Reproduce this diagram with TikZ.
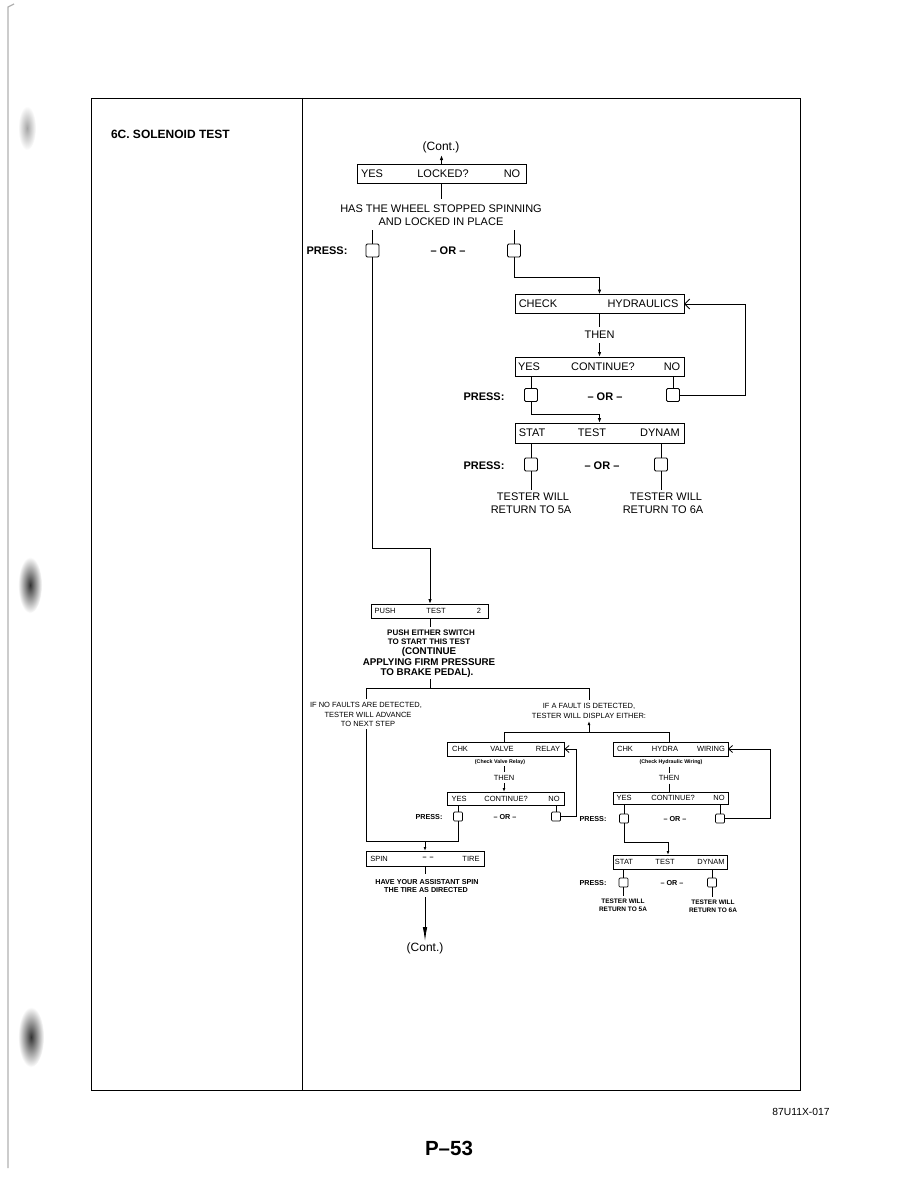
\documentclass[tikz,border=0pt]{standalone}
\usepackage{fontspec}
\setmainfont{Liberation Sans}
\usetikzlibrary{arrows.meta}
\begin{document}
\begin{tikzpicture}[x=1pt,y=-1pt,
  every node/.style={inner sep=0pt, outer sep=0pt},
  uline/.style={line width=1pt},
  lline/.style={line width=0.8pt},
  ubox/.style={draw, line width=1pt, minimum width=169pt, minimum height=19pt},
  lbox/.style={draw, line width=0.8pt, minimum width=117pt, minimum height=14pt},
  usq/.style={draw, line width=0.9pt, minimum size=13pt, rounded corners=1.2pt},
  lsq/.style={draw, line width=0.7pt, minimum size=9pt, rounded corners=1pt},
  tu/.style={font=\fontsize{11}{13}\selectfont},
  tub/.style={font=\bfseries\fontsize{11}{13}\selectfont},
  tl/.style={font=\fontsize{7.5}{9}\selectfont},
  tlb/.style={font=\bfseries\fontsize{7.2}{9}\selectfont},
  tsm/.style={font=\bfseries\fontsize{6.5}{8}\selectfont},
  tmid/.style={font=\bfseries\fontsize{8}{9}\selectfont},
  tbig/.style={font=\bfseries\fontsize{9.8}{11}\selectfont},
  ttiny/.style={font=\bfseries\fontsize{5.3}{6}\selectfont},
  ua/.style={-{Latex[length=5pt,width=3.5pt]}},
  la/.style={-{Latex[length=4pt,width=2.8pt]}},
  ub/.style={-{Straight Barb[length=5pt,width=10pt]}},
  lb/.style={-{Straight Barb[length=4pt,width=7pt]}}
]
\useasboundingbox (0,0) rectangle (918,1188);
\fill[white] (0,0) rectangle (918,1188);

% scan artefacts at the left margin
\draw[gray!60, line width=1.2pt] (14,4) -- (8,7) -- (8,1168);
\shade[inner color=gray!70, outer color=white] (27,128) ellipse (9 and 22);
\shade[inner color=black!80, outer color=white] (30,585) ellipse (12 and 28);
\shade[inner color=black!80, outer color=white] (31,1037) ellipse (13 and 30);

% frame
\draw[line width=0.9pt] (91,98) rectangle (800,1090);
\draw[line width=0.9pt] (302,98) -- (302,1090);
\node[anchor=west, font=\bfseries\fontsize{12}{14}\selectfont] (hdr) at (111,134) {6C. SOLENOID TEST};

% ---------- upper part ----------
\node[font=\fontsize{12}{14}\selectfont] (cont1) at (441,147) {(Cont.)};
\node[ubox] (locked) at (441.5,174) {};
\node[tu] (lyes) at (372,174) {YES};
\node[tu] (llock) at (443,174) {LOCKED?};
\node[tu] (lno) at (512,174) {NO};
\coordinate (c1b) at (441.5,155);
\draw[uline,ua] (locked.north) -- (c1b);

\node[tu] (has1) at (441,209) {HAS THE WHEEL STOPPED SPINNING};
\node[tu] (has2) at (441,222) {AND LOCKED IN PLACE};
\coordinate (hasT) at (441.5,199);
\draw[uline] (locked.south) -- (hasT);

\node[usq] (p1) at (372.5,250.5) {};
\node[usq] (p2) at (514,250.5) {};
\coordinate (p1t) at (372.5,230);
\coordinate (p2t) at (514,230);
\draw[uline] (p1t) -- (p1.north);
\draw[uline] (p2t) -- (p2.north);
\node[tub] (press1) at (327,251) {PRESS:};
\node[tub] (or1) at (448,251) {– OR –};

\node[ubox] (chk) at (599.5,304) {};
\node[tu] (chk1) at (538,304) {CHECK};
\node[tu] (chk2) at (643,304) {HYDRAULICS};
\coordinate (j0) at (599.5,277);
\draw[uline,ua] (p2.south) |- (j0) -- (chk.north);

\node[tu] (then1) at (599.5,335) {THEN};
\coordinate (t1a) at (599.5,327);
\coordinate (t1b) at (599.5,343);
\draw[uline] (chk.south) -- (t1a);
\node[ubox] (cont2) at (599.5,366.5) {};
\node[tu] (c2a) at (529,366.5) {YES};
\node[tu] (c2b) at (603,366.5) {CONTINUE?};
\node[tu] (c2c) at (672,366.5) {NO};
\draw[uline,ua] (t1b) -- (cont2.north);

\node[usq] (p3) at (531,395) {};
\node[usq] (p4) at (673,395) {};
\draw[uline] (cont2.south -| p3) -- (p3.north);
\draw[uline] (cont2.south -| p4) -- (p4.north);
\draw[uline,ub] (p4.east) -- ++(65.5,0) |- (chk.east);
\node[tub] (press2) at (484,397) {PRESS:};
\node[tub] (or2) at (605,397) {– OR –};

\node[ubox, minimum height=20pt] (stat1) at (599.5,433) {};
\node[tu] (s1a) at (532,433) {STAT};
\node[tu] (s1b) at (592,433) {TEST};
\node[tu] (s1c) at (660,433) {DYNAM};
\coordinate (j3) at (599.5,414);
\draw[uline,ua] (p3.south) |- (j3) -- (stat1.north);

\node[usq] (p5) at (531,464.5) {};
\node[usq] (p6) at (661,464.5) {};
\draw[uline] (stat1.south -| p5) -- (p5.north);
\draw[uline] (stat1.south -| p6) -- (p6.north);
\node[tub] (press3) at (484,466) {PRESS:};
\node[tub] (or3) at (602,466) {– OR –};
\node[tu] (tw1) at (533,497) {TESTER WILL};
\node[tu] (rt1) at (531,510) {RETURN TO 5A};
\node[tu] (tw2) at (666,497) {TESTER WILL};
\node[tu] (rt2) at (663,510) {RETURN TO 6A};
\coordinate (e5) at (531,490);
\coordinate (e6) at (661,490);
\draw[uline] (p5.south) -- (e5);
\draw[uline] (p6.south) -- (e6);

% ---------- lower part ----------
\node[lbox] (push) at (430,611) {};
\node[tl] (pu1) at (385,611) {PUSH};
\node[tl] (pu2) at (436,611) {TEST};
\node[tl] (pu3) at (479,611) {2};
\coordinate (j1) at (430,548);
\draw[uline,ua] (p1.south) |- (j1) -- (push.north);

\node[tmid] (pe1) at (431,633) {PUSH EITHER SWITCH};
\node[tmid] (pe2) at (429,642) {TO START THIS TEST};
\node[tbig] (pe3) at (429,651.5) {(CONTINUE};
\node[tbig] (pe4) at (429,662) {APPLYING FIRM PRESSURE};
\node[tbig] (pe5) at (427,672.5) {TO BRAKE PEDAL).};
\coordinate (pet) at (430,627);
\draw[lline] (push.south) -- (pet);
\coordinate (peb) at (430,679);
\coordinate (j2) at (430,688);
\draw[lline] (peb) -- (j2);
\coordinate (jl) at (366,688);
\coordinate (jr) at (589,688);
\draw[lline] (jl) -- (jr);

\node[tl] (nf1) at (366,705) {IF NO FAULTS ARE DETECTED,};
\node[tl] (nf2) at (368,714.5) {TESTER WILL ADVANCE};
\node[tl] (nf3) at (368,723.5) {TO NEXT STEP};
\coordinate (nft) at (366,699);
\coordinate (nfb) at (366,729);
\draw[lline] (jl) -- (nft);

\node[tl] (af1) at (589,706.5) {IF A FAULT IS DETECTED,};
\node[tl] (af2) at (589,715.5) {TESTER WILL DISPLAY EITHER:};
\coordinate (aft) at (589,700);
\coordinate (afb) at (589,721);
\draw[lline] (jr) -- (aft);
\coordinate (jm) at (589,732);
\draw[lline,la] (jm) -- (afb);
\coordinate (jv) at (504,732);
\coordinate (jh) at (669,732);
\draw[lline] (jv) -- (jh);

% valve relay column
\node[lbox] (valve) at (506,749) {};
\node[tl] (v1) at (460,749) {CHK};
\node[tl] (v2) at (502,749) {VALVE};
\node[tl] (v3) at (548,749) {RELAY};
\draw[lline] (jv) -- (jv |- valve.north);
\node[ttiny] (cvr) at (500,762) {(Check Valve Relay)};
\node[tl] (then2) at (504,777.5) {THEN};
\coordinate (t2a) at (504,766);
\coordinate (t2b) at (504,772);
\coordinate (t2c) at (504,783);
\draw[lline] (t2a) -- (t2b);
\node[lbox, minimum height=13pt] (vcont) at (506,798.5) {};
\node[tl] (vc1) at (459,798.5) {YES};
\node[tl] (vc2) at (506,798.5) {CONTINUE?};
\node[tl] (vc3) at (554,798.5) {NO};
\draw[lline,la] (t2c) -- (t2c |- vcont.north);
\node[lsq] (p7) at (458,816.5) {};
\node[lsq] (p8) at (556,816.5) {};
\draw[lline] (vcont.south -| p7) -- (p7.north);
\draw[lline] (vcont.south -| p8) -- (p8.north);
\node[tlb] (press4) at (429,817) {PRESS:};
\node[tlb] (or4) at (505,817) {– OR –};
\draw[lline,lb] (p8.east) -- ++(16,0) |- (valve.east);

% left branch to spin
\coordinate (jl2) at (366,841);
\draw[lline] (nfb) -- (jl2) -| (p7.south);
\node[lbox, minimum width=118pt, minimum height=15pt] (spin) at (425,858.5) {};
\node[tl] (sp1) at (379,858.5) {SPIN};
\node[tlb] (sp2) at (428,858.5) {–\hspace{3pt}–};
\node[tl] (sp3) at (471,858.5) {TIRE};
\coordinate (j4) at (425,841);
\draw[lline,la] (j4) -- (spin.north);
\node[tlb] (hy1) at (427,882) {HAVE YOUR ASSISTANT SPIN};
\node[tlb] (hy2) at (426,890) {THE TIRE AS DIRECTED};
\coordinate (hyt) at (425,874);
\coordinate (hyb) at (425,897);
\draw[lline] (spin.south) -- (hyt);
\node[font=\fontsize{12}{14}\selectfont] (cont3) at (425,948) {(Cont.)};
\coordinate (c3t) at (425,941);
\draw[lline,-{Latex[length=14pt,width=4.5pt]}] (hyb) -- (c3t);

% hydraulic wiring column
\node[lbox, minimum width=115pt] (hydra) at (670.5,749) {};
\node[tl] (h1) at (625,749) {CHK};
\node[tl] (h2) at (665,749) {HYDRA};
\node[tl] (h3) at (711,749) {WIRING};
\draw[lline] (jh) -- (jh |- hydra.north);
\node[ttiny] (chw) at (671,762) {(Check Hydraulic Wiring)};
\node[tl] (then3) at (669,778) {THEN};
\coordinate (t3a) at (669,766.5);
\coordinate (t3b) at (669,772.5);
\coordinate (t3c) at (669,783.5);
\draw[lline] (t3a) -- (t3b);
\node[lbox, minimum width=115pt, minimum height=12pt] (hcont) at (670.5,798) {};
\node[tl] (hc1) at (624,798) {YES};
\node[tl] (hc2) at (673,798) {CONTINUE?};
\node[tl] (hc3) at (719,798) {NO};
\draw[lline] (t3c) -- (t3c |- hcont.north);
\node[lsq] (p9) at (624,818.5) {};
\node[lsq] (p10) at (720,818.5) {};
\draw[lline] (hcont.south -| p9) -- (p9.north);
\draw[lline] (hcont.south -| p10) -- (p10.north);
\node[tlb] (press5) at (593,819) {PRESS:};
\node[tlb] (or5) at (675,819) {– OR –};
\draw[lline,lb] (p10.east) -- ++(45.5,0) |- (hydra.east);

\node[lbox, minimum width=114pt] (hstat) at (670,862) {};
\node[tl] (hs1) at (624,862) {STAT};
\node[tl] (hs2) at (665,862) {TEST};
\node[tl] (hs3) at (711,862) {DYNAM};
\coordinate (j5) at (668,842);
\draw[lline,la] (p9.south) |- (j5) -- (j5 |- hstat.north);
\node[lsq] (p11) at (623.5,882.5) {};
\node[lsq] (p12) at (712,882.5) {};
\draw[lline] (hstat.south -| p11) -- (p11.north);
\draw[lline] (hstat.south -| p12) -- (p12.north);
\node[tlb] (press6) at (593,883) {PRESS:};
\node[tlb] (or6) at (672,883) {– OR –};
\node[tsm] (tw3) at (623,901) {TESTER WILL};
\node[tsm] (rt3) at (623,909) {RETURN TO 5A};
\node[tsm] (tw4) at (713,902) {TESTER WILL};
\node[tsm] (rt4) at (713,910) {RETURN TO 6A};
\coordinate (e11) at (623.5,896);
\coordinate (e12) at (712,897);
\draw[lline] (p11.south) -- (e11);
\draw[lline] (p12.south) -- (e12);

% footer
\node[font=\fontsize{10.3}{12}\selectfont] (code) at (801,1112) {87U11X-017};
\node[font=\bfseries\fontsize{20.5}{24}\selectfont] (page) at (449,1148) {P–53};
\end{tikzpicture}
\end{document}
